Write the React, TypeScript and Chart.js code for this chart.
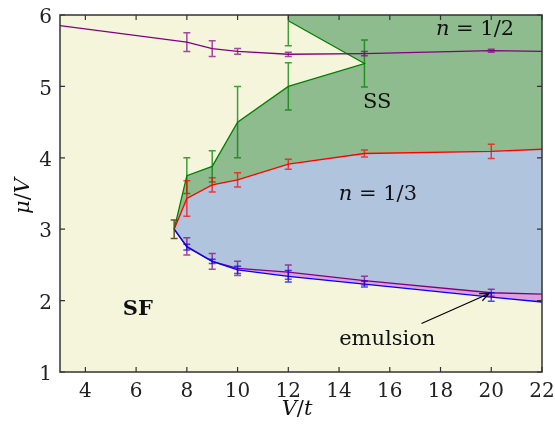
import React, { useEffect, useRef } from "react";
import { Chart, registerables } from "chart.js";

Chart.register(...registerables);

// ---- tick labels ----
const X_TICKS = [4, 6, 8, 10, 12, 14, 16, 18, 20, 22];
const Y_TICKS = [1, 2, 3, 4, 5, 6];

// ---- tip where all boundaries meet ----
const TIP_X = [7.5];
const TIP_Y = [3.0];
const TIP_ERR = [0.13];

// ---- n = 1/2 lower boundary (purple) ----
const HALF_X = [3, 8, 9, 10, 12, 15, 20, 22];
const HALF_Y = [5.85, 5.62, 5.53, 5.49, 5.45, 5.46, 5.5, 5.49];
const HALF_ERR = [0, 0.13, 0.11, 0.04, 0.03, 0.03, 0.02, 0];

// ---- SS boundary (green) ----
const SS_X = [7.5, 8, 9, 10, 12, 15, 12];
const SS_Y = [3.0, 3.75, 3.88, 4.5, 5.0, 5.32, 5.92];
const SS_ERR = [0, 0.25, 0.22, 0.5, 0.33, 0.33, 0.35];

// ---- n = 1/3 upper boundary (red) ----
const THIRD_UP_X = [7.5, 8, 9, 10, 12, 15, 20, 22];
const THIRD_UP_Y = [3.0, 3.43, 3.62, 3.69, 3.91, 4.06, 4.09, 4.12];
const THIRD_UP_ERR = [0, 0.25, 0.1, 0.1, 0.07, 0.05, 0.1, 0];

// ---- n = 1/3 lower boundary (purple) ----
const THIRD_LO_X = [7.5, 8, 9, 10, 12, 15, 20, 22];
const THIRD_LO_Y = [3.0, 2.76, 2.55, 2.45, 2.4, 2.28, 2.11, 2.09];
const THIRD_LO_ERR = [0, 0.12, 0.11, 0.1, 0.1, 0.06, 0.05, 0];

// ---- emulsion lower boundary (blue) ----
const EMU_X = [7.5, 8, 9, 10, 12, 15, 20, 22];
const EMU_Y = [3.0, 2.75, 2.55, 2.43, 2.34, 2.23, 2.05, 1.98];
const EMU_ERR = [0, 0.04, 0.03, 0.05, 0.08, 0.04, 0.06, 0];

const X_MIN = 3, X_MAX = 22, Y_MIN = 1, Y_MAX = 6;

const pts = (xs: number[], ys: number[]) => xs.map((x, i) => ({ x, y: ys[i] }));

const FONT = '"DejaVu Serif", "Liberation Serif", serif';

type Run = { t: string; it?: boolean };

function drawRuns(ctx: CanvasRenderingContext2D, runs: Run[], cx: number, cy: number, size: number, weight = "normal") {
  let total = 0;
  const widths = runs.map((r) => {
    ctx.font = `${r.it ? "italic " : ""}${weight} ${size}px ${FONT}`;
    const w = ctx.measureText(r.t).width;
    total += w;
    return w;
  });
  let x = cx - total / 2;
  ctx.textBaseline = "middle";
  ctx.textAlign = "left";
  runs.forEach((r, i) => {
    ctx.font = `${r.it ? "italic " : ""}${weight} ${size}px ${FONT}`;
    ctx.fillText(r.t, x, cy);
    x += widths[i];
  });
}

const decorPlugin = {
  id: "decor",
  beforeDraw(chart: any) {
    const { ctx, chartArea: a } = chart;
    ctx.save();
    ctx.fillStyle = "#f5f5dc";
    ctx.fillRect(a.left, a.top, a.right - a.left, a.bottom - a.top);
    ctx.restore();
  },
  afterDatasetsDraw(chart: any) {
    const { ctx, chartArea: a } = chart;
    const xs = chart.scales.x;
    const ys = chart.scales.y;
    const px = (v: number) => xs.getPixelForValue(v);
    const py = (v: number) => ys.getPixelForValue(v);

    ctx.save();
    ctx.beginPath();
    ctx.rect(a.left, a.top, a.right - a.left, a.bottom - a.top);
    ctx.clip();
    const errBars = (X: number[], Y: number[], E: number[], color: string) => {
      ctx.strokeStyle = color;
      ctx.lineWidth = 1.5;
      X.forEach((x, i) => {
        const e = E[i];
        if (!e) return;
        const cx = px(x);
        const y1 = py(Y[i] + e);
        const y2 = py(Y[i] - e);
        ctx.beginPath();
        ctx.moveTo(cx, y1);
        ctx.lineTo(cx, y2);
        ctx.moveTo(cx - 3.5, y1);
        ctx.lineTo(cx + 3.5, y1);
        ctx.moveTo(cx - 3.5, y2);
        ctx.lineTo(cx + 3.5, y2);
        ctx.stroke();
      });
    };
    errBars(SS_X, SS_Y, SS_ERR, "rgba(0,128,0,0.75)");
    errBars(THIRD_UP_X, THIRD_UP_Y, THIRD_UP_ERR, "rgba(255,0,0,0.7)");
    errBars(HALF_X, HALF_Y, HALF_ERR, "rgba(128,0,128,0.7)");
    errBars(THIRD_LO_X, THIRD_LO_Y, THIRD_LO_ERR, "rgba(128,0,128,0.7)");
    errBars(EMU_X, EMU_Y, EMU_ERR, "rgba(0,0,255,0.7)");
    errBars(TIP_X, TIP_Y, TIP_ERR, "rgba(80,70,25,0.9)");

    // texts
    ctx.fillStyle = "#111";
    drawRuns(ctx, [{ t: "n", it: true }, { t: " = 1/2" }], px(19.36), py(5.8), 21);
    drawRuns(ctx, [{ t: "n", it: true }, { t: " = 1/3" }], px(15.53), py(3.48), 21);
    drawRuns(ctx, [{ t: "SS" }], px(15.5), py(4.77), 21);
    drawRuns(ctx, [{ t: "SF" }], px(6.07), py(1.87), 21, "bold");
    drawRuns(ctx, [{ t: "emulsion" }], px(15.9), py(1.46), 21);

    // arrow
    const tx = px(17.25), ty = py(1.68), hx = px(19.92), hy = py(2.1);
    ctx.strokeStyle = "#000";
    ctx.lineWidth = 1.2;
    ctx.beginPath();
    ctx.moveTo(tx, ty);
    ctx.lineTo(hx, hy);
    const ang = Math.atan2(hy - ty, hx - tx);
    const L = 10, W = 0.4;
    ctx.moveTo(hx - L * Math.cos(ang - W), hy - L * Math.sin(ang - W));
    ctx.lineTo(hx, hy);
    ctx.lineTo(hx - L * Math.cos(ang + W), hy - L * Math.sin(ang + W));
    ctx.stroke();
    ctx.restore();

    // frame and inward ticks
    ctx.save();
    ctx.strokeStyle = "#333";
    ctx.lineWidth = 1.5;
    ctx.strokeRect(a.left, a.top, a.right - a.left, a.bottom - a.top);
    ctx.lineWidth = 1.2;
    ctx.beginPath();
    X_TICKS.forEach((v) => {
      const x = px(v);
      ctx.moveTo(x, a.bottom);
      ctx.lineTo(x, a.bottom - 5);
      ctx.moveTo(x, a.top);
      ctx.lineTo(x, a.top + 5);
    });
    Y_TICKS.forEach((v) => {
      const y = py(v);
      ctx.moveTo(a.left, y);
      ctx.lineTo(a.left + 5, y);
      ctx.moveTo(a.right, y);
      ctx.lineTo(a.right - 5, y);
    });
    ctx.stroke();

    // axis titles
    ctx.fillStyle = "#111";
    drawRuns(ctx, [{ t: "V", it: true }, { t: "/" }, { t: "t", it: true }], (a.left + a.right) / 2 - 4, 410, 21);
    ctx.translate(24, 196);
    ctx.rotate(-Math.PI / 2);
    drawRuns(ctx, [{ t: "μ", it: true }, { t: "/" }, { t: "V", it: true }], 0, 0, 21);
    ctx.restore();
  },
};

export default function App() {
  const ref = useRef<HTMLCanvasElement>(null);
  useEffect(() => {
    if (!ref.current) return;
    const greenPoly = [
      ...pts(SS_X, SS_Y),
      { x: 12, y: Y_MAX },
      { x: X_MAX, y: Y_MAX },
      ...pts(THIRD_UP_X, THIRD_UP_Y).slice(1).reverse(),
    ];
    const bluePoly = [
      ...pts(THIRD_UP_X, THIRD_UP_Y),
      ...pts(THIRD_LO_X, THIRD_LO_Y).slice(1).reverse(),
    ];
    const emuPoly = [
      ...pts(THIRD_LO_X, THIRD_LO_Y),
      ...pts(EMU_X, EMU_Y).slice(1).reverse(),
    ];
    const line = (data: any[], color: string) => ({
      data,
      borderColor: color,
      borderWidth: 1.3,
      pointRadius: 0,
      showLine: true,
      fill: false,
      tension: 0,
    });
    const poly = (data: any[], color: string) => ({
      data,
      borderWidth: 0,
      borderColor: "rgba(0,0,0,0)",
      backgroundColor: color,
      pointRadius: 0,
      showLine: true,
      fill: "shape",
      tension: 0,
    });
    const chart = new Chart(ref.current, {
      type: "scatter",
      data: {
        datasets: [
          line(pts(HALF_X, HALF_Y), "#800080"),
          line(pts(SS_X, SS_Y), "#008000"),
          line(pts(THIRD_UP_X, THIRD_UP_Y), "#ff0000"),
          line(pts(EMU_X, EMU_Y), "#0000ff"),
          line(pts(THIRD_LO_X, THIRD_LO_Y), "#800080"),
          poly(emuPoly, "#dda0dd"),
          poly(bluePoly, "#b0c4de"),
          poly(greenPoly, "#8fbc8f"),
        ] as any,
      },
      options: {
        animation: false,
        responsive: false,
        events: [],
        layout: { padding: { top: 15, right: 13, left: 0, bottom: 0 } },
        plugins: { legend: { display: false }, tooltip: { enabled: false } },
        scales: {
          x: {
            type: "linear",
            min: X_MIN,
            max: X_MAX,
            grid: { display: false, drawTicks: false },
            border: { display: false },
            ticks: { font: { family: FONT, size: 20 }, color: "#222", padding: 8, maxRotation: 0 },
            afterBuildTicks: (s: any) => {
              s.ticks = X_TICKS.map((value) => ({ value }));
            },
            afterFit: (s: any) => {
              s.height = 52;
              s.paddingLeft = 0;
              s.paddingRight = 0;
            },
          },
          y: {
            type: "linear",
            min: Y_MIN,
            max: Y_MAX,
            grid: { display: false, drawTicks: false },
            border: { display: false },
            ticks: { font: { family: FONT, size: 20 }, color: "#222", padding: 8, labelOffset: 3 },
            afterBuildTicks: (s: any) => {
              s.ticks = Y_TICKS.map((value) => ({ value }));
            },
            afterFit: (s: any) => {
              s.width = 60;
              s.paddingTop = 0;
              s.paddingBottom = 0;
            },
          },
        },
      } as any,
      plugins: [decorPlugin],
    });
    return () => chart.destroy();
  }, []);
  return (
    <div style={{ position: "absolute", left: 0, top: 0, width: 555, height: 424 }}>
      <canvas ref={ref} width={555} height={424} style={{ display: "block" }} />
    </div>
  );
}
